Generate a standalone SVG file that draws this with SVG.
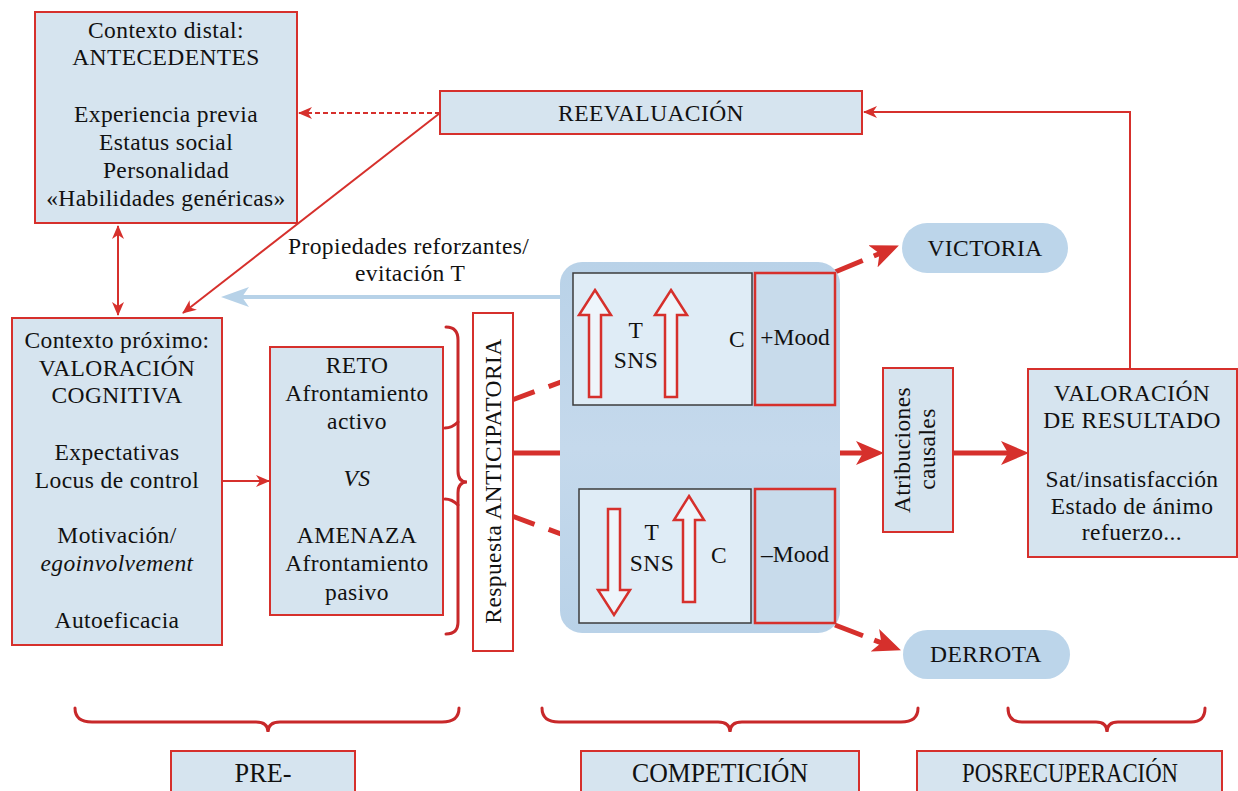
<svg xmlns="http://www.w3.org/2000/svg" width="1238" height="791" viewBox="0 0 1238 791">
<style>
text{font-family:"Liberation Serif","Times New Roman",serif;font-size:23.5px;fill:#111;letter-spacing:0.4px}
.m{text-anchor:middle}
.it{font-style:italic}
.box{fill:#d6e4ef;stroke:#d6302c;stroke-width:2}
.inner{fill:#dfecf6;stroke:#3c3c3c;stroke-width:1.5}
.mood{fill:#c8dbeb;stroke:#d6302c;stroke-width:2.5}
.pill{fill:#bcd5ea}
.hol{fill:#eef5fb;stroke:#d6302c;stroke-width:2.5;stroke-linejoin:miter}
.thin{fill:none;stroke:#d6302c;stroke-width:2}
.thick{fill:none;stroke:#d6302c;stroke-width:5}
.brace{fill:none;stroke:#c8282a;stroke-width:3;stroke-linecap:round}
.bot{font-size:27px;letter-spacing:0}
</style>
<defs>
<marker id="ah" markerUnits="userSpaceOnUse" markerWidth="14" markerHeight="12" refX="13" refY="6" orient="auto-start-reverse">
<path d="M0,0 L14,6 L0,12 L4,6 z" fill="#d6302c"/>
</marker>
<marker id="ahBig" markerUnits="userSpaceOnUse" markerWidth="28" markerHeight="24" refX="17" refY="12" orient="auto">
<path d="M0,0 L28,12 L0,24 L7,12 z" fill="#d6302c"/>
</marker>
<marker id="ahBlue" markerUnits="userSpaceOnUse" markerWidth="28" markerHeight="20" refX="16" refY="10" orient="auto">
<path d="M0,0 L28,10 L0,20 L7,10 z" fill="#b7d2e8"/>
</marker>
<linearGradient id="comp" x1="0" y1="0" x2="0" y2="1">
<stop offset="0" stop-color="#b9d2e8"/>
<stop offset="0.5" stop-color="#c5d9ec"/>
<stop offset="1" stop-color="#b9d2e8"/>
</linearGradient>
</defs>

<g id="connectors">
<line class="thin" x1="118" y1="226" x2="118" y2="315" marker-start="url(#ah)" marker-end="url(#ah)"/>
<line class="thin" x1="440" y1="113" x2="299" y2="113" stroke-dasharray="5 3" marker-end="url(#ah)"/>
<line class="thin" x1="440" y1="113" x2="183" y2="313" marker-end="url(#ah)"/>
<line x1="562" y1="297" x2="233" y2="297" stroke="#b7d2e8" stroke-width="4" marker-end="url(#ahBlue)"/>
<line class="thin" x1="222" y1="481" x2="269" y2="481" marker-end="url(#ah)"/>
<line class="thick" x1="512" y1="400" x2="580" y2="375" stroke-dasharray="24 15"/>
<line class="thick" x1="512" y1="453" x2="873" y2="453" marker-end="url(#ahBig)"/>
<line class="thick" x1="512" y1="516" x2="580" y2="541" stroke-dasharray="24 15"/>
<line class="thick" x1="953" y1="453" x2="1018" y2="453" marker-end="url(#ahBig)"/>
<polyline class="thin" points="1130,369 1130,112 864,112" marker-end="url(#ah)"/>
<line class="thick" x1="835" y1="272" x2="888.7" y2="249.8" stroke-dasharray="30 12" marker-end="url(#ahBig)"/>
<line class="thick" x1="835" y1="625" x2="890.7" y2="646.4" stroke-dasharray="30 12" marker-end="url(#ahBig)"/>
</g>

<g id="antecedentes">
<rect class="box" x="35" y="12" width="262" height="211"/>
<text class="m" x="166" y="38">Contexto distal:</text>
<text class="m" x="166" y="65">ANTECEDENTES</text>
<text class="m" x="166" y="122">Experiencia previa</text>
<text class="m" x="166" y="150">Estatus social</text>
<text class="m" x="166" y="178">Personalidad</text>
<text class="m" x="166" y="206">«Habilidades genéricas»</text>
</g>

<g id="reevaluacion">
<rect class="box" x="440" y="91" width="422" height="43"/>
<text class="m" x="651" y="121">REEVALUACIÓN</text>
</g>

<g id="propiedades-label">
<text x="288" y="254">Propiedades reforzantes/</text>
<text x="355" y="281">evitación T</text>
</g>

<g id="contexto-proximo">
<rect class="box" x="12" y="318" width="210" height="327"/>
<text class="m" x="117" y="348">Contexto próximo:</text>
<text class="m" x="117" y="376">VALORACIÓN</text>
<text class="m" x="117" y="403">COGNITIVA</text>
<text class="m" x="117" y="460">Expectativas</text>
<text class="m" x="117" y="488">Locus de control</text>
<text class="m" x="117" y="543">Motivación/</text>
<text class="m it" x="117" y="571">egoinvolvement</text>
<text class="m" x="117" y="628">Autoeficacia</text>
</g>

<g id="reto-amenaza">
<rect class="box" x="270" y="347" width="173" height="268"/>
<text class="m" x="357" y="373">RETO</text>
<text class="m" x="357" y="401">Afrontamiento</text>
<text class="m" x="357" y="429">activo</text>
<text class="m it" x="357" y="486">VS</text>
<text class="m" x="357" y="543">AMENAZA</text>
<text class="m" x="357" y="571">Afrontamiento</text>
<text class="m" x="357" y="600">pasivo</text>
</g>

<g id="brace-reto">
<path class="brace" d="M446,327 Q458,327 458,340 L458,471 Q458,482 467,482 Q458,482 458,493 L458,622 Q458,634 446,634"/>
<path class="brace" d="M445,428 Q452,428 458,422"/>
<path class="brace" d="M445,499 Q452,499 458,505"/>
</g>

<g id="respuesta-anticipatoria">
<rect x="473" y="313" width="40" height="338" fill="#ffffff" stroke="#d6302c" stroke-width="2"/>
<text class="m" transform="translate(501,481) rotate(-90)">Respuesta ANTICIPATORIA</text>
</g>

<g id="competicion">
<rect x="560" y="262" width="280" height="371" rx="22" fill="url(#comp)"/>
</g>

<g id="estado-victoria">
<rect class="inner" x="573" y="273" width="179" height="132"/>
<polygon class="hol" points="595,290 611,315 601,315 601,397 589,397 589,315 579,315"/>
<polygon class="hol" points="671,290 687,315 677,315 677,397 665,397 665,315 655,315"/>
<text class="m" x="636" y="338">T</text>
<text class="m" x="636" y="368">SNS</text>
<text class="m" x="737" y="347">C</text>
<rect class="mood" x="755" y="273" width="80" height="132"/>
<text class="m" x="795" y="345" style="letter-spacing:0">+Mood</text>
</g>

<g id="estado-derrota">
<rect class="inner" x="579" y="489" width="172" height="134"/>
<polygon class="hol" points="608,509 620,509 620,590 630,590 614,615 598,590 608,590"/>
<polygon class="hol" points="689,496 704,520 695,520 695,602 683,602 683,520 674,520"/>
<text class="m" x="652" y="540">T</text>
<text class="m" x="652" y="571">SNS</text>
<text class="m" x="719" y="563">C</text>
<rect class="mood" x="755" y="489" width="80" height="134"/>
<text class="m" x="795" y="562" style="letter-spacing:0">–Mood</text>
</g>

<g id="victoria">
<rect class="pill" x="902" y="223" width="166" height="50" rx="25"/>
<text class="m" x="985" y="256">VICTORIA</text>
</g>

<g id="derrota">
<rect class="pill" x="903" y="630" width="167" height="49" rx="24.5"/>
<text class="m" x="986" y="662">DERROTA</text>
</g>

<g id="atribuciones">
<rect class="box" x="883" y="368" width="70" height="164"/>
<text class="m" transform="translate(910,450) rotate(-90)">Atribuciones</text>
<text class="m" transform="translate(935,449) rotate(-90)">causales</text>
</g>

<g id="valoracion-resultado">
<rect class="box" x="1028" y="369" width="209" height="188"/>
<text class="m" x="1132" y="401">VALORACIÓN</text>
<text class="m" x="1132" y="428">DE RESULTADO</text>
<text class="m" x="1132" y="487">Sat/insatisfacción</text>
<text class="m" x="1132" y="514">Estado de ánimo</text>
<text class="m" x="1132" y="540">refuerzo...</text>
</g>

<g id="fases">
<path class="brace" d="M75,708 Q75,722 92,722 L256,722 Q268,722 268,732 Q268,722 280,722 L442,722 Q459,722 459,708"/>
<path class="brace" d="M542,708 Q542,722 559,722 L718,722 Q730,722 730,732 Q730,722 742,722 L901,722 Q918,722 918,708"/>
<path class="brace" d="M1008,708 Q1008,722 1022,722 L1096,722 Q1107,722 1107,732 Q1107,722 1118,722 L1191,722 Q1205,722 1205,708"/>
</g>

<g id="fase-pre">
<rect class="box" x="171" y="751" width="184" height="50"/>
<text class="m bot" x="263" y="782" textLength="57" lengthAdjust="spacingAndGlyphs">PRE-</text>
</g>
<g id="fase-competicion">
<rect class="box" x="581" y="751" width="278" height="50"/>
<text class="m bot" x="720" y="782" textLength="176" lengthAdjust="spacingAndGlyphs">COMPETICIÓN</text>
</g>
<g id="fase-posrecuperacion">
<rect class="box" x="917" y="751" width="305" height="50"/>
<text class="m bot" x="1070" y="782" textLength="216" lengthAdjust="spacingAndGlyphs">POSRECUPERACIÓN</text>
</g>
</svg>
